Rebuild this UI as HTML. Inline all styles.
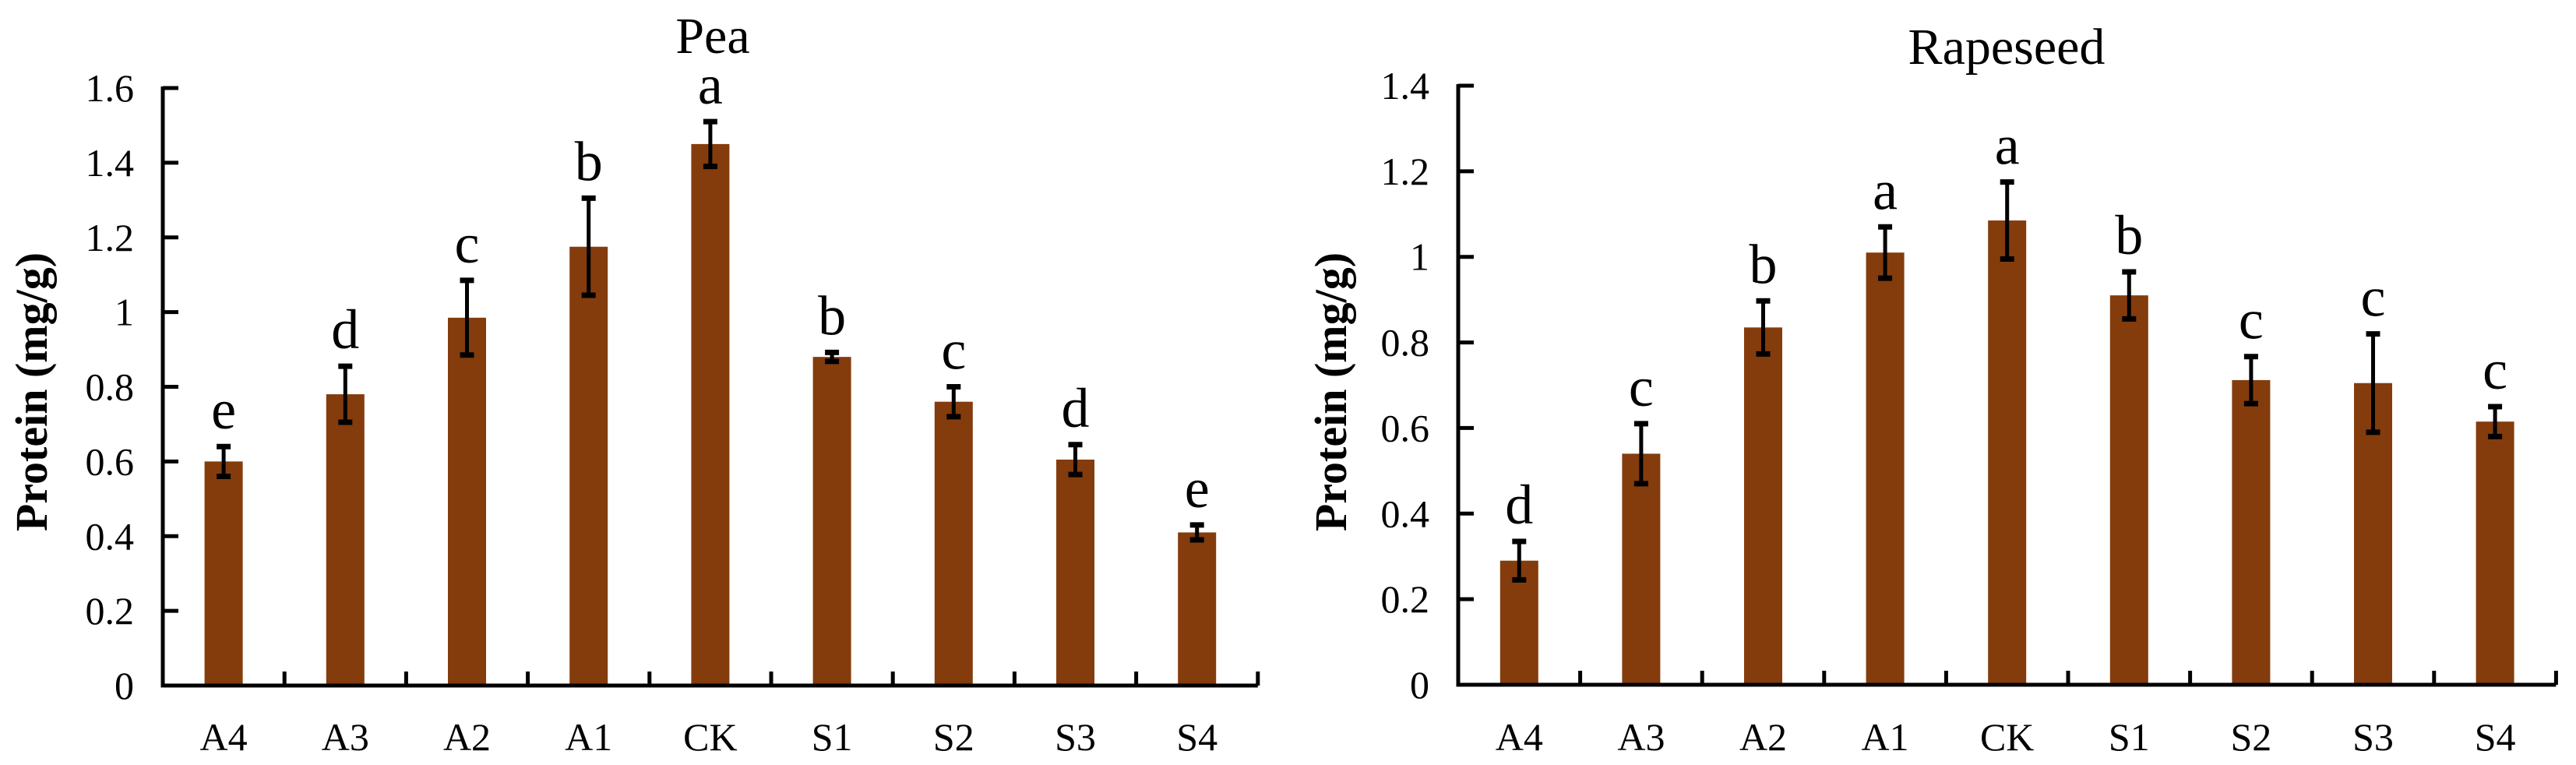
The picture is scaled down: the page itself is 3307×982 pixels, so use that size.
<!DOCTYPE html>
<html><head><meta charset="utf-8"><style>
html,body{margin:0;padding:0;background:#fff;}
svg{display:block;font-family:"Liberation Serif",serif;}
</style></head><body>
<svg id="c" width="3307" height="982" viewBox="0 0 3307 982" xmlns="http://www.w3.org/2000/svg"></svg>
<script>
const categories = ["A4","A3","A2","A1","CK","S1","S2","S3","S4"];
const peaValues = [0.60,0.78,0.985,1.175,1.45,0.88,0.76,0.605,0.41];
const peaErrors = [0.04,0.075,0.10,0.13,0.06,0.012,0.04,0.04,0.02];
const peaLetters = ["e","d","c","b","a","b","c","d","e"];
const peaTicks = ["0","0.2","0.4","0.6","0.8","1","1.2","1.4","1.6"];
const rapeValues = [0.29,0.54,0.835,1.01,1.085,0.91,0.712,0.705,0.615];
const rapeErrors = [0.045,0.07,0.062,0.06,0.09,0.055,0.055,0.115,0.035];
const rapeLetters = ["d","c","b","a","a","b","c","c","c"];
const rapeTicks = ["0","0.2","0.4","0.6","0.8","1","1.2","1.4"];

const NS="http://www.w3.org/2000/svg";
const svg=document.getElementById('c');
function mk(tag,attrs,parent){const e=document.createElementNS(NS,tag);for(const k in attrs)e.setAttribute(k,attrs[k]);(parent||svg).appendChild(e);return e;}

function chart(o){
  const g=mk('g',{});
  
  
  const y0=o.y0, yTop=o.yTop, vmax=o.vmax;
  const yS=v=>y0-(v/vmax)*(y0-yTop);
  const step=o.step;
  const xC=i=>o.ax+step*(i+0.5);
  // title
  const t=mk('text',{x:o.titleX,y:o.titleY,'text-anchor':'middle','font-size':66},g);
  t.textContent=o.title;
  
  
  // y title
  const yt=mk('text',{x:0,y:0,'text-anchor':'middle','font-size':58,'font-weight':'bold',transform:`translate(${o.ytX},503) rotate(-90)`},g);
  yt.textContent='Protein (mg/g)';
  
  
  // bars
  categories.forEach((c,i)=>{
    const v=o.values[i], e=o.errors[i], x=xC(i);
    const b=mk('rect',{x:x-24.5,y:yS(v),width:49,height:y0-yS(v),fill:'#843C0C'},g);
    
    
    const eg=mk('g',{stroke:'#000'},g);
    
    
    mk('line',{x1:x,x2:x,y1:yS(v+e),y2:yS(v-e),'stroke-width':5},eg);
    mk('line',{x1:x-9,x2:x+9,y1:yS(v+e),y2:yS(v+e),'stroke-width':7},eg);
    mk('line',{x1:x-9,x2:x+9,y1:yS(v-e),y2:yS(v-e),'stroke-width':7},eg);
    const l=mk('text',{x:x,y:yS(v+e)-23,'text-anchor':'middle','font-size':72},g);
    l.textContent=o.letters[i];
    
    
    const xl=mk('text',{x:x,y:963,'text-anchor':'middle','font-size':50},g);
    xl.textContent=c;
    
    
  });
  // axes
  const axEnd=o.ax+step*categories.length;
  const axes=mk('g',{stroke:'#000','stroke-width':5},g);
  
  
  mk('line',{x1:o.ax,x2:o.ax,y1:yTop-2,y2:y0+2.5},axes);
  mk('line',{x1:o.ax-2.5,x2:axEnd,y1:y0,y2:y0},axes);
  o.ticks.forEach((tk,i)=>{
    const v=i*0.2, y=yS(v);
    if(i>0) mk('line',{x1:o.ax,x2:o.ax+20,y1:y,y2:y},axes);
    const tl=mk('text',{x:o.ax-37,y:y+17,'text-anchor':'end','font-size':50},g);
    tl.textContent=tk;
    
    
  });
  for(let i=1;i<=categories.length;i++){
    const x=o.ax+step*i;
    mk('line',{x1:x,x2:x,y1:y0,y2:y0-18},axes);
  }
}
chart({name:'pea-chart',title:'Pea',titleX:915,titleY:68,ytX:60,ax:209,step:156.2,y0:880,yTop:113,vmax:1.6,values:peaValues,errors:peaErrors,letters:peaLetters,ticks:peaTicks});
chart({name:'rapeseed-chart',title:'Rapeseed',titleX:2576,titleY:82,ytX:1728,ax:1872,step:156.6,y0:879,yTop:110,vmax:1.4,values:rapeValues,errors:rapeErrors,letters:rapeLetters,ticks:rapeTicks});
</script>
</body></html>
